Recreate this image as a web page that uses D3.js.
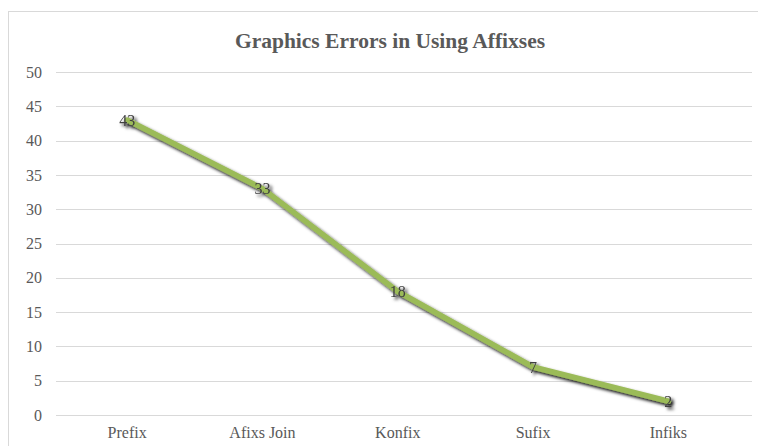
<!DOCTYPE html>
<html>
<head>
<meta charset="utf-8">
<script src="https://cdn.jsdelivr.net/npm/d3@7"></script>
<style>
  html, body { margin: 0; padding: 0; background: #fff; }
  svg { display: block; }
</style>
</head>
<body>
<svg id="chart" width="758" height="446"></svg>
<script>
const categories = ["Prefix", "Afixs Join", "Konfix", "Sufix", "Infiks"];
const values = [43, 33, 18, 7, 2];
const yTicks = [0, 5, 10, 15, 20, 25, 30, 35, 40, 45, 50];
const title = "Graphics Errors in Using Affixses";

const svg = d3.select("#chart");
const font = "'Liberation Serif', 'DejaVu Serif', serif";
const textColor = "#595959";

// chart area frame
svg.append("rect")
  .attr("x", 8.5).attr("y", 11.5)
  .attr("width", 780).attr("height", 460)
  .attr("fill", "#fff")
  .attr("stroke", "#d9d9d9").attr("stroke-width", 1);

svg.append("text")
  .attr("x", 390).attr("y", 48)
  .attr("text-anchor", "middle")
  .attr("font-family", font)
  .attr("font-weight", "bold")
  .attr("font-size", 21.5)
  .attr("fill", textColor)
  .text(title);

const gridLeft = 56, gridRight = 752;
const x = d3.scaleBand().domain(categories).range([59.5, 736]);
const y = d3.scaleLinear().domain([0, 50]).range([415, 72]);

// horizontal gridlines
svg.append("g")
  .selectAll("line")
  .data(yTicks)
  .join("line")
  .attr("x1", gridLeft).attr("x2", gridRight)
  .attr("y1", d => Math.round(y(d)) + 0.5)
  .attr("y2", d => Math.round(y(d)) + 0.5)
  .attr("stroke", "#d9d9d9").attr("stroke-width", 1);

// y axis labels
const yAxis = d3.axisLeft(y).tickValues(yTicks).tickSize(0).tickPadding(0);
const yg = svg.append("g").attr("transform", "translate(42,0)").call(yAxis);
yg.select(".domain").remove();
yg.selectAll("text")
  .attr("font-family", font).attr("font-size", 16).attr("fill", textColor);

// x axis labels
const xAxis = d3.axisBottom(x).tickSize(0).tickPadding(0);
const xg = svg.append("g").attr("transform", "translate(0,427)").call(xAxis);
xg.select(".domain").remove();
xg.selectAll("text")
  .attr("font-family", font).attr("font-size", 16).attr("fill", textColor)
  .attr("dy", "0.71em");

// soft drop shadow for the series
const defs = svg.append("defs");
const f = defs.append("filter").attr("id", "shadow")
  .attr("x", "-10%").attr("y", "-10%").attr("width", "120%").attr("height", "120%");
f.append("feDropShadow")
  .attr("dx", 2.5).attr("dy", 2.5).attr("stdDeviation", 1.4)
  .attr("flood-color", "#000").attr("flood-opacity", 0.9);

const cx = d => x(d) + x.bandwidth() / 2;
const line = d3.line()
  .x((d, i) => cx(categories[i]))
  .y(d => y(d));

const series = svg.append("g").attr("filter", "url(#shadow)");
series.append("path")
  .datum(values)
  .attr("d", line)
  .attr("fill", "none")
  .attr("stroke", "#9bbb59")
  .attr("stroke-width", 5.5)
  .attr("stroke-linejoin", "round")
  .attr("stroke-linecap", "round");

series.selectAll("text")
  .data(values)
  .join("text")
  .attr("x", (d, i) => cx(categories[i]))
  .attr("y", d => y(d))
  .attr("dy", "0.35em")
  .attr("text-anchor", "middle")
  .attr("font-family", font).attr("font-size", 16)
  .attr("fill", "#404040")
  .text(d => d);
</script>
</body>
</html>
